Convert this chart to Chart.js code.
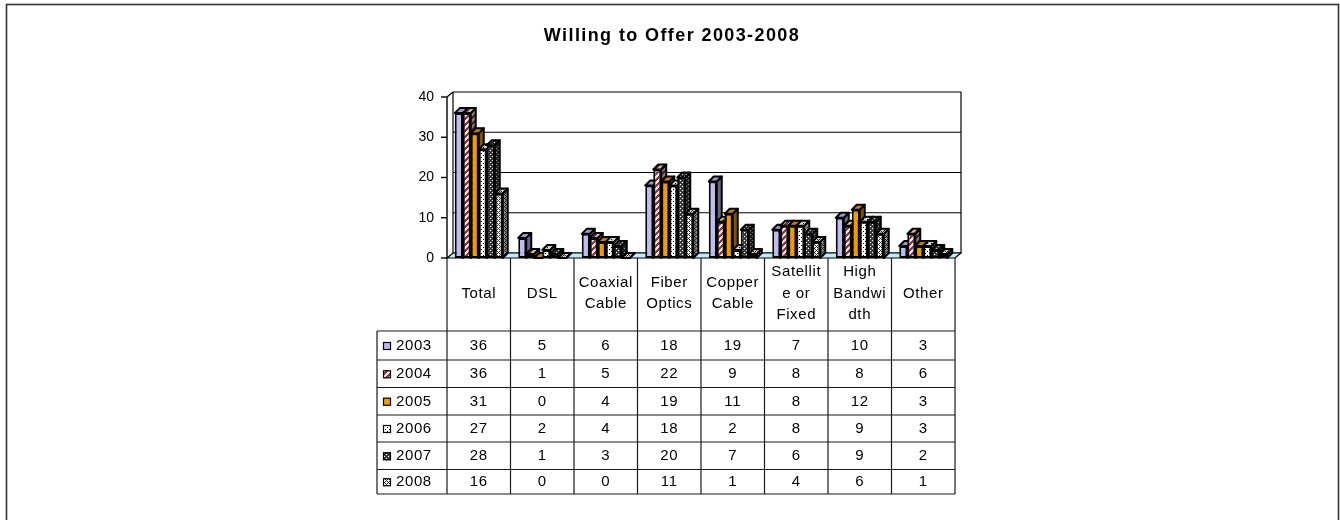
<!DOCTYPE html>
<html><head><meta charset="utf-8">
<script src="https://cdn.jsdelivr.net/npm/chart.js@4.4.1/dist/chart.umd.min.js"></script>
<style>html,body{margin:0;padding:0;background:#fff;}canvas{display:block;}</style>
</head><body>
<canvas id="c" width="1340" height="520"></canvas>
<script>
const chartTitle = "Willing to Offer 2003-2008";
const categories = [["Total"],["DSL"],["Coaxial","Cable"],["Fiber","Optics"],["Copper","Cable"],["Satellit","e or","Fixed"],["High","Bandwi","dth"],["Other"]];
const years = ["2003","2004","2005","2006","2007","2008"];
const v2003 = [36,5,6,18,19,7,10,3];
const v2004 = [36,1,5,22,9,8,8,6];
const v2005 = [31,0,4,19,11,8,12,3];
const v2006 = [27,2,4,18,2,8,9,3];
const v2007 = [28,1,3,20,7,6,9,2];
const v2008 = [16,0,0,11,1,4,6,1];
const seriesValues = [v2003,v2004,v2005,v2006,v2007,v2008];
const yTickValues = [0,10,20,30,40];

const canvas = document.getElementById('c');
const mainCtx = canvas.getContext('2d');
const FONT = '"Liberation Sans", Arial, sans-serif';

function tile(size, painter, shade){
  const t = document.createElement('canvas'); t.width = size; t.height = size;
  const c = t.getContext('2d');
  for (let y=0;y<size;y++) for (let x=0;x<size;x++){ c.fillStyle = painter(x,y); c.fillRect(x,y,1,1); }
  if (shade){ c.fillStyle = 'rgba(0,0,0,'+shade+')'; c.fillRect(0,0,size,size); }
  return mainCtx.createPattern(t,'repeat');
}
function solid(col, shade){ return tile(2, ()=>col, shade); }
function makeFills(shade){
  return [
    solid('#bcbcf2', shade),
    tile(6,(x,y)=> ((x+y)%6)<3 ? '#8e2a86' : '#f7f0a2', shade),
    solid('#f39a00', shade),
    tile(4,(x,y)=> (x%4===1 && y%4===1)||(x%4===3&&y%4===3) ? '#000' : '#fff', shade),
    tile(4,(x,y)=> (x===0&&y===0)||(x===2&&y===2) ? '#fff' : ((x+y)%2===0 ? '#222' : '#555'), shade),
    tile(4,(x,y)=> ((x+y)%2===0 && !(x===0&&y===0) && !(x===2&&y===2)) ? '#333' : '#fff', shade)
  ];
}
const frontFills = makeFills(0);
const topFills = makeFills(0.18);
const sideFills = makeFills(0.45);

const WDX = 6, WDY = -5;   // wall depth
const BDX = 5, BDY = -5;   // bar depth

function line(ctx,x1,y1,x2,y2){ ctx.beginPath(); ctx.moveTo(x1,y1); ctx.lineTo(x2,y2); ctx.stroke(); }

const deco = {
  id:'deco',
  beforeDraw(chart){
    const ctx = chart.ctx; ctx.save();
    ctx.fillStyle='#fff'; ctx.fillRect(0,0,1340,520);
    ctx.strokeStyle='#333'; ctx.lineWidth=1.6; ctx.strokeRect(6.5,4.5,1332,560);
    ctx.fillStyle='#000'; ctx.font='bold 18px '+FONT;
    try { ctx.letterSpacing='1.4px'; } catch(e){}
    ctx.textBaseline='middle'; ctx.textAlign='left';
    const w = ctx.measureText(chartTitle).width;
    ctx.fillText(chartTitle, 672 - w/2, 36);
    ctx.restore();
  },
  beforeDatasetsDraw(chart){
    const ctx = chart.ctx, ys = chart.scales.y, a = chart.chartArea;
    const L=a.left, R=a.right, T=ys.getPixelForValue(40), B=ys.getPixelForValue(0);
    ctx.save();
    ctx.strokeStyle='#000'; ctx.lineWidth=1.2;
    ctx.fillStyle='#fff';
    ctx.fillRect(L+WDX, T+WDY, R-L, B-T);
    yTickValues.forEach(v=>{ const y=ys.getPixelForValue(v)+WDY; line(ctx,L+WDX,y,R+WDX,y); });
    line(ctx,L+WDX,T+WDY,L+WDX,B+WDY);
    line(ctx,R+WDX,T+WDY,R+WDX,B+WDY);
    line(ctx,L,T,L+WDX,T+WDY);
    ctx.beginPath(); ctx.moveTo(L,B); ctx.lineTo(R,B); ctx.lineTo(R+WDX,B+WDY); ctx.lineTo(L+WDX,B+WDY); ctx.closePath();
    ctx.fillStyle='#bdeef3'; ctx.fill(); ctx.stroke();
    ctx.lineWidth=1.4;
    line(ctx,L,T,L,B);
    yTickValues.forEach(v=>{ const y=ys.getPixelForValue(v); line(ctx,L-6,y,L,y); });
    ctx.lineWidth=2; ctx.lineJoin='round';
    const metas = chart.data.datasets.map((d,i)=>chart.getDatasetMeta(i));
    for (let j=0;j<categories.length;j++){
      for (let i=0;i<metas.length;i++){
        const p = metas[i].data[j].getProps(['x','y','base','width'], true);
        const l=p.x-p.width/2, r=p.x+p.width/2, t=p.y, b=p.base;
        ctx.beginPath(); ctx.moveTo(r,t); ctx.lineTo(r+BDX,t+BDY); ctx.lineTo(r+BDX,b+BDY); ctx.lineTo(r,b); ctx.closePath();
        ctx.fillStyle=sideFills[i]; ctx.fill(); ctx.stroke();
        ctx.beginPath(); ctx.moveTo(l,t); ctx.lineTo(l+BDX,t+BDY); ctx.lineTo(r+BDX,t+BDY); ctx.lineTo(r,t); ctx.closePath();
        ctx.fillStyle=topFills[i]; ctx.fill(); ctx.stroke();
      }
    }
    ctx.restore();
  },
  afterDraw(chart){
    const ctx = chart.ctx, xs = chart.scales.x, ys = chart.scales.y;
    const n = categories.length, cw = (xs.right - xs.left)/n;
    const bounds = []; for (let k=0;k<=n;k++) bounds.push(xs.left + k*cw);
    const top = ys.getPixelForValue(0);
    const rowLines = [331,360,387.5,415,442,469.5,494];
    const legLeft = 377;
    ctx.save();
    ctx.strokeStyle='#1a1a1a'; ctx.lineWidth=1.2;
    bounds.forEach(x=>line(ctx,x,top,x,rowLines[rowLines.length-1]));
    line(ctx,legLeft,rowLines[0],legLeft,rowLines[rowLines.length-1]);
    rowLines.forEach(y=>line(ctx,legLeft,y,bounds[n],y));
    ctx.fillStyle='#000'; ctx.font='15px '+FONT; ctx.textBaseline='middle';
    try { ctx.letterSpacing='0.6px'; } catch(e){}
    ctx.textAlign='center';
    categories.forEach((lines,k)=>{
      const cx=(bounds[k]+bounds[k+1])/2;
      lines.forEach((s,m)=>ctx.fillText(s,cx,293.5+(m-(lines.length-1)/2)*21.5));
    });
    seriesValues.forEach((vals,i)=>{
      const cy=(rowLines[i]+rowLines[i+1])/2+0.5;
      vals.forEach((v,k)=>{ ctx.textAlign='center'; ctx.fillText(String(v),(bounds[k]+bounds[k+1])/2,cy); });
      ctx.fillStyle=frontFills[i]; ctx.fillRect(383,cy-4,8,8);
      ctx.lineWidth=1.2; ctx.strokeStyle='#000'; ctx.strokeRect(383.5,cy-3.5,7,7);
      ctx.fillStyle='#000'; ctx.textAlign='left';
      ctx.fillText(years[i],396,cy);
    });
    ctx.restore();
  }
};

new Chart(canvas, {
  type:'bar',
  data:{
    labels: categories,
    datasets: years.map((y,i)=>({
      label:y, data:seriesValues[i], backgroundColor:frontFills[i],
      borderColor:'#000', borderWidth:2, borderSkipped:false,
      categoryPercentage:0.756, barPercentage:1
    }))
  },
  options:{
    responsive:false, animation:false, events:[],
    layout:{padding:{left:0,right:385,top:97,bottom:262}},
    plugins:{legend:{display:false},tooltip:{enabled:false},title:{display:false}},
    scales:{
      x:{display:false},
      y:{
        min:0,max:40,
        afterFit(s){ s.width=447; },
        afterBuildTicks(s){ s.ticks = yTickValues.map(v=>({value:v})); },
        grid:{display:false,drawTicks:true,tickLength:6},
        border:{display:false},
        ticks:{color:'#000',padding:7,font:{family:FONT,size:14}}
      }
    }
  },
  plugins:[deco]
});
</script>
</body></html>
